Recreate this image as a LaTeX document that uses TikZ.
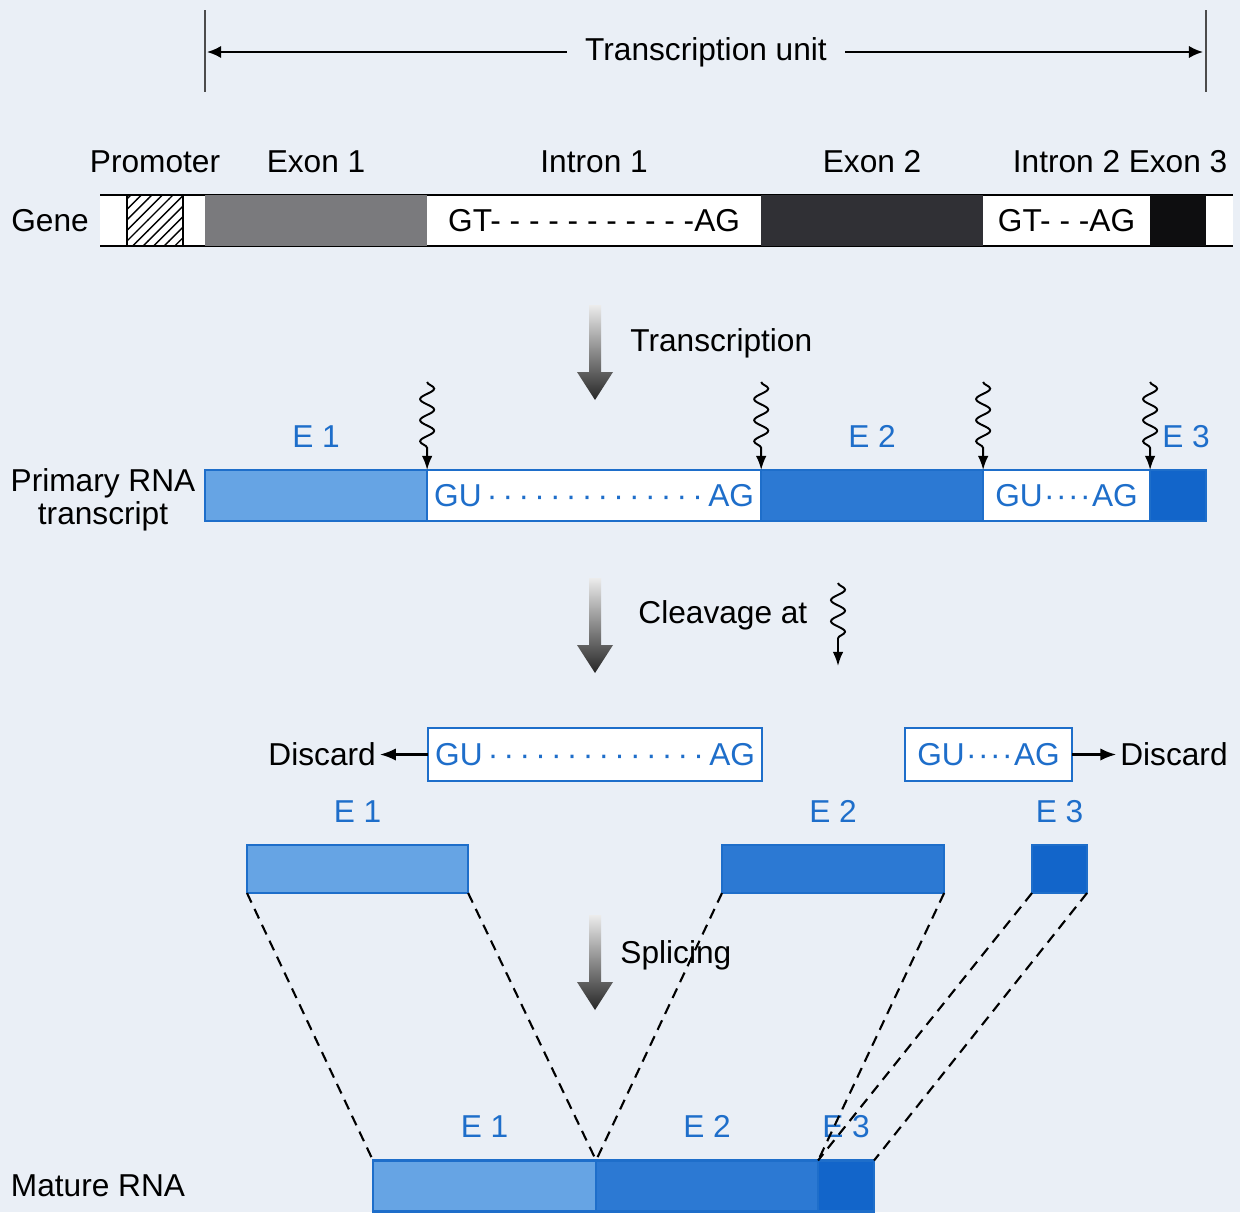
\documentclass[tikz,border=0pt]{standalone}
\usepackage{fontspec}
\setmainfont{Liberation Sans}
\usetikzlibrary{positioning,calc,patterns,decorations.pathmorphing,arrows.meta}
\tikzset{>=latex}

\definecolor{bg}{RGB}{234,239,246}
\definecolor{ruablue}{RGB}{30,110,202}
\definecolor{exA}{RGB}{102,164,228}
\definecolor{exB}{RGB}{44,121,211}
\definecolor{exC}{RGB}{18,101,202}
\definecolor{gA}{RGB}{122,122,125}
\definecolor{gB}{RGB}{48,48,53}
\definecolor{gC}{RGB}{14,14,16}

\tikzset{
  lbl/.style={font=\fontsize{9}{9.5}\selectfont},
  headlbl/.style={lbl, text height=6.6pt, text depth=1.9pt},
  elbl/.style={headlbl, text=ruablue},
  seg/.style={inner sep=0pt, outer sep=0pt, minimum height=0.51cm, anchor=west},
  rna/.style={draw=ruablue, semithick, text=ruablue, lbl},
  wavy/.style={-{Latex[length=4pt,width=3pt]}, line width=0.55pt, decorate,
    decoration={snake, amplitude=2pt, segment length=6pt, post length=6pt}},
  throw/.style={-{Latex[length=4.5pt,width=3.5pt]}, semithick},
  splice/.style={semithick, dash pattern=on 3pt off 2pt},
  bigarrow/.pic={
    \shade[top color=gray!15, bottom color=black!85]
      (-6,0) -- (6,0) -- (6,67) -- (18,67) -- (0,95) -- (-18,67) -- (-6,67) -- cycle;
  }
}

\begin{document}
\begin{tikzpicture}[x=0.01cm, y=-0.01cm]
	\fill[bg] (0,0) rectangle (1240,1212);
	\useasboundingbox (0,0) rectangle (1240,1212);

	% transcription unit
	\draw[gray!60!black] (205,10) -- (205,92);
	\draw[gray!60!black] (1206,10) -- (1206,92);
	\coordinate (tuL) at (207,52);
	\coordinate (tuR) at (1203,52);
	\node[lbl, inner xsep=5pt] (tu) at (706,52) {Transcription unit};
	\draw[-{Latex[length=4pt,width=3.5pt]}, semithick] (tu) -- (tuL);
	\draw[-{Latex[length=4pt,width=3.5pt]}, semithick] (tu) -- (tuR);

	% gene
	\fill[white] (100,195) rectangle (1233,246);
	\draw[semithick] (100,195) -- (1233,195);
	\draw[semithick] (100,246) -- (1233,246);
	\node[seg, draw, pattern=north east lines, minimum width=0.56cm] (prom) at (127,220.5) {};
	\node[seg, fill=gA, minimum width=2.22cm] (ex1) at (205,220.5) {};
	\node[seg, lbl, minimum width=3.34cm] (in1) at (427,220.5) {GT- - - - - - - - - - -AG};
	\node[seg, fill=gB, minimum width=2.22cm] (ex2) at (761,220.5) {};
	\node[seg, lbl, minimum width=1.67cm] (in2) at (983,220.5) {GT- - -AG};
	\node[seg, fill=gC, minimum width=0.56cm] (ex3) at (1150,220.5) {};

	\node[headlbl, above=1pt of prom] (lprom) {Promoter};
	\node[headlbl, above=1pt of ex1] (lex1) {Exon 1};
	\node[headlbl, above=1pt of in1] (lin1) {Intron 1};
	\node[headlbl, above=1pt of ex2] (lex2) {Exon 2};
	\node[headlbl, above=1pt of in2] (lin2) {Intron 2};
	\node[headlbl, above=1pt of ex3] (lex3) {Exon 3};
	\node[lbl] (gene) at (50,221) {Gene};

	% transcription
	\pic at (595,305) {bigarrow};
	\node[lbl, anchor=west] (trn) at (618,343) {Transcription};

	% primary transcript
	\node[seg, rna, fill=exA, minimum width=2.22cm] (pe1) at (205,495.5) {};
	\node[seg, rna, fill=white, minimum width=3.34cm] (pi1) at (427,495.5)
		{GU\foreach \k in {1,...,14}{\hspace{1.5pt}·}\hspace{1.5pt}AG};
	\node[seg, rna, fill=exB, minimum width=2.22cm] (pe2) at (761,495.5) {};
	\node[seg, rna, fill=white, minimum width=1.67cm] (pi2) at (983,495.5)
		{GU\foreach \k in {1,...,4}{\hspace{0.4pt}·}\hspace{0.4pt}AG};
	\node[seg, rna, fill=exC, minimum width=0.56cm] (pe3) at (1150,495.5) {};

	\node[elbl, above=1pt of pe1] (lpe1) {E 1};
	\node[elbl, above=1pt of pe2] (lpe2) {E 2};
	\node[elbl, above=1pt of pe3, xshift=0.08cm] (lpe3) {E 3};
	\node[lbl, align=center] (prim) at (103,500) {Primary RNA\\transcript};

	\foreach \n in {pe1,pi1,pe2,pi2} {
		\draw[wavy] ($(\n.north east)+(0,-88)$) -- (\n.north east);
	}

	% cleavage
	\pic at (595,578) {bigarrow};
	\node[lbl, anchor=west] (clv) at (626,615) {Cleavage at};
	\coordinate (cwT) at (838,583);
	\coordinate (cwB) at (838,666);
	\draw[wavy] (cwT) -- (cwB);

	% discarded introns
	\node[seg, rna, fill=white, minimum width=3.34cm, minimum height=0.53cm] (d1) at (428,754.5)
		{GU\foreach \k in {1,...,14}{\hspace{1.5pt}·}\hspace{1.5pt}AG};
	\node[seg, rna, fill=white, minimum width=1.67cm, minimum height=0.53cm] (d2) at (905,754.5)
		{GU\foreach \k in {1,...,4}{\hspace{0.4pt}·}\hspace{0.4pt}AG};
	\node[lbl, left=0.48cm of d1, inner xsep=1pt] (dis1) {Discard};
	\node[lbl, right=0.44cm of d2, inner xsep=1pt] (dis2) {Discard};
	\draw[throw] (d1) -- (dis1);
	\draw[throw] (d2) -- (dis2);

	% exon pieces
	\node[seg, rna, fill=exA, minimum width=2.21cm, minimum height=0.48cm] (f1) at (247,869) {};
	\node[seg, rna, fill=exB, minimum width=2.22cm, minimum height=0.48cm] (f2) at (722,869) {};
	\node[seg, rna, fill=exC, minimum width=0.55cm, minimum height=0.48cm] (f3) at (1032,869) {};
	\node[elbl, above=1pt of f1] (lf1) {E 1};
	\node[elbl, above=1pt of f2] (lf2) {E 2};
	\node[elbl, above=1pt of f3] (lf3) {E 3};

	% splicing
	\pic at (595,915) {bigarrow};
	\node[lbl, anchor=west] (spl) at (608,955) {Splicing};

	% mature RNA
	\node[seg, rna, fill=exA, minimum width=2.23cm] (m1) at (373,1186) {};
	\node[seg, rna, fill=exB, minimum width=2.22cm] (m2) at (596,1186) {};
	\node[seg, rna, fill=exC, minimum width=0.56cm] (m3) at (818,1186) {};
	\node[elbl, above=1pt of m1] (lm1) {E 1};
	\node[elbl, above=1pt of m2] (lm2) {E 2};
	\node[elbl, above=1pt of m3] (lm3) {E 3};
	\node[lbl] (mat) at (98,1186) {Mature RNA};

	\draw[splice] (f1.south west) -- (m1.north west);
	\draw[splice] (f1.south east) -- (m1.north east);
	\draw[splice] (f2.south west) -- (m2.north west);
	\draw[splice] (f2.south east) -- (m2.north east);
	\draw[splice] (f3.south west) -- (m3.north west);
	\draw[splice] (f3.south east) -- (m3.north east);
\end{tikzpicture}
\end{document}
